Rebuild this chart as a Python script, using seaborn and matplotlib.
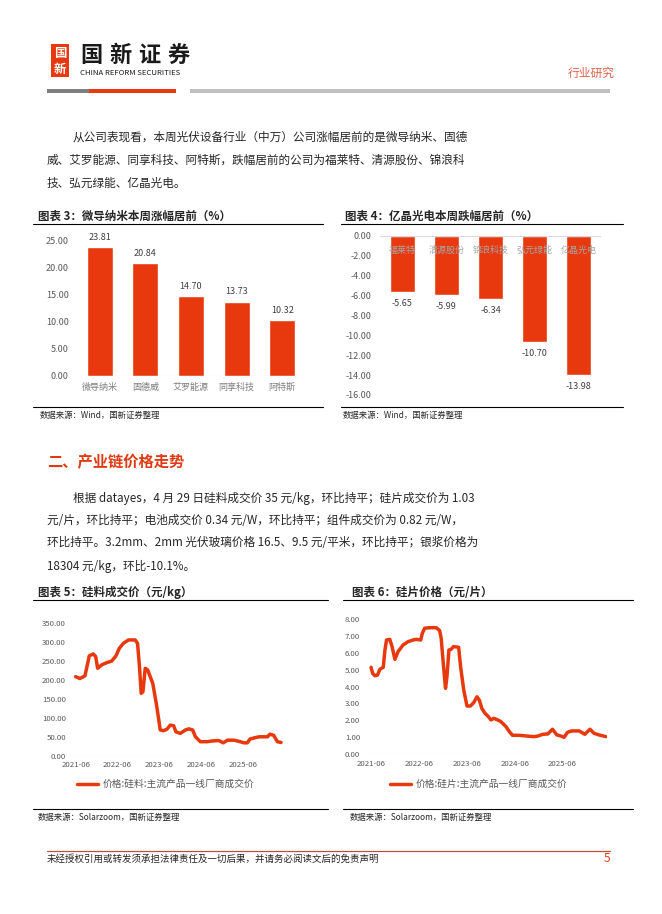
import numpy as np
import pandas as pd
import matplotlib
matplotlib.use("Agg")
import matplotlib.pyplot as plt
import matplotlib.dates as mdates
from matplotlib.lines import Line2D
from matplotlib.patches import Rectangle
from matplotlib.ticker import FormatStrFormatter
import seaborn as sns

W, H = 662, 914

# weekly movers (%)
gain_names = ["微导纳米", "固德威", "艾罗能源", "同享科技", "阿特斯"]
gain_values = [23.81, 20.84, 14.70, 13.73, 10.32]
loss_names = ["福莱特", "清源股份", "锦浪科技", "弘元绿能", "亿晶光电"]
loss_values = [-5.65, -5.99, -6.34, -10.70, -13.98]

# polysilicon price (yuan/kg)
poly_dates = ["2021-06-02", "2021-07-09", "2021-08-22", "2021-09-12", "2021-09-29", "2021-11-03",
              "2021-11-24", "2021-12-11", "2022-01-15", "2022-02-28", "2022-04-12", "2022-05-20",
              "2022-06-18", "2022-07-23", "2022-09-06", "2022-11-03", "2022-11-24", "2022-12-11",
              "2022-12-26", "2023-01-10", "2023-01-30", "2023-02-20", "2023-04-06", "2023-05-11",
              "2023-06-10", "2023-07-09", "2023-08-07", "2023-09-06", "2023-10-05", "2023-10-25",
              "2023-12-02", "2024-01-16", "2024-02-14", "2024-03-19", "2024-04-12", "2024-05-25",
              "2024-07-23", "2024-09-06", "2024-11-03", "2024-12-11", "2025-01-16", "2025-03-14",
              "2025-04-27", "2025-06-10", "2025-07-09", "2025-08-01", "2025-09-06", "2025-10-20",
              "2026-01-01", "2026-01-22", "2026-02-23", "2026-03-28", "2026-04-29"]
poly_prices = [209, 204, 211, 240, 264, 269, 262, 231, 240, 246, 250, 264, 284, 297, 306, 306,
               297, 235, 165, 169, 231, 227, 191, 130, 68, 66, 70, 81, 79, 63, 59, 68, 71, 68,
               50, 37, 37, 39, 40, 34, 41, 41, 38, 34, 34, 44, 47, 50, 50, 57, 54, 37, 35]

# wafer price (yuan/piece)
wafer_dates = ["2021-06-02", "2021-06-14", "2021-07-01", "2021-07-21", "2021-08-08", "2021-09-03",
               "2021-09-16", "2021-09-28", "2021-10-23", "2021-11-09", "2021-12-01", "2021-12-25",
               "2022-02-02", "2022-03-11", "2022-04-18", "2022-05-13", "2022-06-16", "2022-06-28",
               "2022-07-16", "2022-08-22", "2022-10-13", "2022-11-07", "2022-11-19", "2022-12-07",
               "2022-12-22", "2023-01-02", "2023-01-17", "2023-02-03", "2023-02-21", "2023-04-01",
               "2023-04-16", "2023-05-10", "2023-06-04", "2023-06-30", "2023-07-25", "2023-08-19",
               "2023-09-06", "2023-09-25", "2023-10-19", "2023-11-14", "2023-12-04", "2023-12-25",
               "2024-01-25", "2024-02-18", "2024-03-28", "2024-04-22", "2024-05-16", "2024-07-07",
               "2024-08-28", "2024-10-28", "2024-11-28", "2025-01-01", "2025-02-09", "2025-03-17",
               "2025-04-20", "2025-05-20", "2025-06-13", "2025-07-10", "2025-08-10", "2025-10-07",
               "2025-11-19", "2025-12-28", "2026-01-28", "2026-03-08", "2026-04-29"]
wafer_prices = [5.15, 4.79, 4.65, 4.69, 5.03, 5.15, 6.18, 6.77, 6.81, 6.38, 5.62, 6.08, 6.48,
                6.67, 6.77, 6.81, 6.77, 7.17, 7.47, 7.50, 7.50, 7.33, 6.87, 5.19, 3.90, 4.60,
                6.18, 6.22, 6.38, 6.34, 5.19, 3.80, 2.85, 2.85, 3.05, 3.40, 3.20, 2.71, 2.42,
                2.22, 2.02, 2.12, 2.02, 1.92, 1.62, 1.33, 1.11, 1.11, 1.07, 1.03, 1.07, 1.17,
                1.19, 1.47, 1.13, 1.07, 0.99, 1.29, 1.37, 1.37, 1.17, 1.47, 1.23, 1.13, 1.03]

year_ticks = ["2021-06-02", "2022-06-02", "2023-06-02", "2024-06-02", "2025-06-02"]

para1 = ["从公司表现看，本周光伏设备行业（中万）公司涨幅居前的是微导纳米、固德",
         "威、艾罗能源、同享科技、阿特斯，跌幅居前的公司为福莱特、清源股份、锦浪科",
         "技、弘元绿能、亿晶光电。"]
para2 = ["根据 datayes，4 月 29 日硅料成交价 35 元/kg，环比持平；硅片成交价为 1.03",
         "元/片，环比持平；电池成交价 0.34 元/W，环比持平；组件成交价为 0.82 元/W，",
         "环比持平。3.2mm、2mm 光伏玻璃价格 16.5、9.5 元/平米，环比持平；银浆价格为",
         "18304 元/kg，环比-10.1%。"]

RED = "#E8380D"
GRAY = "#595959"

sns.set_theme(style="white")
plt.rcParams["font.family"] = ["Noto Sans CJK SC", "DejaVu Sans"]

fig = plt.figure(figsize=(W / 100, H / 100), dpi=100)


def fbox(l, t, r, b):
    return [l / W, 1 - b / H, (r - l) / W, (b - t) / H]


def ftext(x, y, s, **kw):
    kw.setdefault("va", "center")
    kw.setdefault("ha", "left")
    fig.text(x / W, 1 - y / H, s, **kw)


def fline(x0, x1, y, color="black", lw=0.8):
    fig.add_artist(Line2D([x0 / W, x1 / W], [1 - y / H, 1 - y / H],
                          color=color, lw=lw, transform=fig.transFigure))


def frect(x0, y0, x1, y1, color):
    fig.add_artist(Rectangle((x0 / W, 1 - y1 / H), (x1 - x0) / W, (y1 - y0) / H,
                             color=color, lw=0, transform=fig.transFigure))


# header
frect(51, 44, 69, 77, RED)
ftext(60, 53, "国", color="white", fontsize=9, fontweight="bold", ha="center")
ftext(60, 69, "新", color="white", fontsize=9, fontweight="bold", ha="center")
for i, ch in enumerate("国新证券"):
    ftext(80 + i * 29, 56, ch, fontsize=16, fontweight="heavy", color="#1a1a1a")
ftext(80, 73, "CHINA REFORM SECURITIES", fontsize=5.6, color="#1a1a1a")
ftext(568, 73, "行业研究", fontsize=8.5, color="#E0604A")
frect(47, 89, 89, 93, "#7F7F7F")
frect(89, 89, 176, 93, RED)
frect(190, 89, 610, 93, "#BFBFBF")

# paragraph 1
ftext(73, 137, para1[0], fontsize=8.4)
ftext(47, 160, para1[1], fontsize=8.4)
ftext(47, 183, para1[2], fontsize=8.4)

# chart titles / frames (top row)
ftext(38, 216, "图表 3：微导纳米本周涨幅居前（%）", fontsize=8.3, fontweight="bold")
ftext(345, 216, "图表 4：亿晶光电本周跌幅居前（%）", fontsize=8.3, fontweight="bold")
fline(33, 323, 224)
fline(341, 623, 224)
fline(33, 323, 407)
fline(341, 623, 407)
ftext(40, 415, "数据来源：Wind，国新证券整理", fontsize=6)
ftext(343, 415, "数据来源：Wind，国新证券整理", fontsize=6)

# chart 3: gains
ax3 = fig.add_axes(fbox(77, 241, 305, 375.7))
sns.barplot(x=gain_names, y=gain_values, color=RED, saturation=1, width=0.57, ax=ax3)
ax3.set_ylim(0, 25)
ax3.set_yticks(np.arange(0, 26, 5))
ax3.yaxis.set_major_formatter(FormatStrFormatter("%.2f"))
ax3.axhline(0, color="#D9D9D9", lw=0.8)
ax3.bar_label(ax3.containers[0], fmt="%.2f", padding=4, fontsize=6.5, color="#404040")
ax3.tick_params(axis="y", length=0, pad=6, labelsize=6.5, labelcolor=GRAY)
ax3.tick_params(axis="x", length=0, pad=5, labelsize=6.5, labelcolor="#7F7F7F")
ax3.set_xlabel("")
ax3.set_ylabel("")
sns.despine(ax=ax3, left=True, bottom=True)

# chart 4: losses, category names sit just under the zero line over the bars
ax4 = fig.add_axes(fbox(380, 235.7, 601, 395))
sns.barplot(x=loss_names, y=loss_values, color=RED, saturation=1, width=0.565, ax=ax4)
ax4.set_axisbelow(False)
ax4.set_ylim(-16, 0)
ax4.set_yticks(np.arange(-16, 1, 2))
ax4.yaxis.set_major_formatter(FormatStrFormatter("%.2f"))
ax4.axhline(0, color="#D9D9D9", lw=0.8)
ax4.bar_label(ax4.containers[0], fmt="%.2f", padding=5, fontsize=6.5, color="#404040")
ax4.tick_params(axis="y", length=0, pad=6, labelsize=6.5, labelcolor=GRAY)
ax4.tick_params(axis="x", length=0, pad=-14, labelsize=6.5, labelcolor="#A6A6A6",
                bottom=False, top=False, labelbottom=False, labeltop=True)
ax4.set_xlabel("")
ax4.set_ylabel("")
sns.despine(ax=ax4, left=True, bottom=True, top=True, right=True)

# section 2
ftext(47, 462, "二、产业链价格走势", fontsize=11, fontweight="bold", color="#E03A12")
ftext(73, 498, para2[0], fontsize=8.4)
ftext(47, 521, para2[1], fontsize=8.4)
ftext(47, 543, para2[2], fontsize=8.4)
ftext(47, 566, para2[3], fontsize=8.4)

# chart titles / frames (bottom row)
ftext(38, 592, "图表 5：硅料成交价（元/kg）", fontsize=8.3, fontweight="bold")
ftext(352, 592, "图表 6：硅片价格（元/片）", fontsize=8.3, fontweight="bold")
fline(33, 328, 600)
fline(343, 633, 600)
fline(33, 328, 809)
fline(343, 633, 809)
ftext(38, 817, "数据来源：Solarzoom，国新证券整理", fontsize=6)
ftext(350, 817, "数据来源：Solarzoom，国新证券整理", fontsize=6)


def price_axes(ax, dates, prices, label, xlim, ylim, step, legend_x):
    df = pd.DataFrame({"date": pd.to_datetime(dates), "price": prices})
    sns.lineplot(data=df, x="date", y="price", color=RED, lw=2.5, ax=ax, label=label)
    ax.lines[0].set_solid_joinstyle("round")
    ax.lines[0].set_solid_capstyle("round")
    ax.set_xlim(pd.Timestamp(xlim[0]), pd.Timestamp(xlim[1]))
    ax.set_ylim(*ylim)
    ax.set_yticks(np.arange(ylim[0], ylim[1] + step / 2, step))
    ax.yaxis.set_major_formatter(FormatStrFormatter("%.2f"))
    ax.set_xticks(pd.to_datetime(year_ticks))
    ax.xaxis.set_major_formatter(mdates.DateFormatter("%Y-%m"))
    ax.axhline(0, color="#D9D9D9", lw=0.8)
    ax.tick_params(axis="y", length=0, pad=5, labelsize=5.6, labelcolor=GRAY)
    ax.tick_params(axis="x", length=0, pad=4, labelsize=5.6, labelcolor=GRAY)
    ax.set_xlabel("")
    ax.set_ylabel("")
    sns.despine(ax=ax, left=True, bottom=True)
    ax.legend(loc="center left", bbox_to_anchor=(legend_x / W, 1 - 784 / H),
              bbox_transform=fig.transFigure, frameon=False, borderpad=0,
              borderaxespad=0, handlelength=2.2, handletextpad=0.4,
              fontsize=7, labelcolor=GRAY)


ax5 = fig.add_axes(fbox(73, 623.3, 283, 755.7))
price_axes(ax5, poly_dates, poly_prices, "价格:硅料:主流产品一线厂商成交价",
           ("2021-05-10", "2026-05-16"), (0, 350), 50, 77)

ax6 = fig.add_axes(fbox(367, 619.3, 607, 754))
price_axes(ax6, wafer_dates, wafer_prices, "价格:硅片:主流产品一线厂商成交价",
           ("2021-05-02", "2026-05-07"), (0, 8), 1, 390)

# footer
fline(47, 610, 851, color="#B5533C", lw=0.9)
ftext(47, 859, "未经授权引用或转发须承担法律责任及一切后果，并请务必阅读文后的免责声明", fontsize=6.8)
ftext(610, 859, "5", fontsize=8.5, color=RED, ha="right")

fig.savefig("out.png", dpi=100)
